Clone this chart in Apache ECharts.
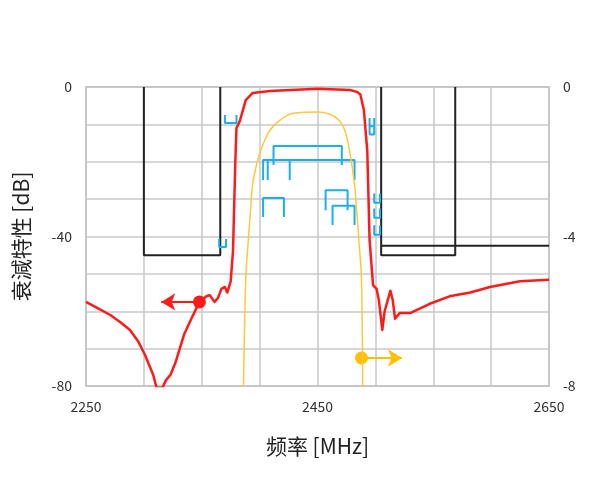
<!DOCTYPE html>
<html><head><meta charset="utf-8">
<script src="https://cdn.jsdelivr.net/npm/echarts@6/dist/echarts.min.js"></script>
<style>html,body{margin:0;padding:0;background:#fff}#c{width:600px;height:480px}</style>
</head><body><div id="c"></div>
<script>
// red: attenuation [dB], left axis
const redData = [[2250,-57.5],[2262,-59.5],[2271,-61],[2280,-63],[2288,-65],[2295,-68],[2301,-71.7],[2308,-77],[2311,-80.5],[2316,-80.5],[2319,-78.5],[2323,-77],[2327,-74],[2331,-70],[2335,-66],[2341,-62],[2348,-57.5],[2354,-56],[2357,-55.7],[2361,-57.5],[2364,-56.5],[2367,-54],[2370,-53.5],[2372,-55],[2375,-52],[2377,-44],[2379,-20],[2380,-11],[2383,-9],[2388,-3.5],[2394,-1.6],[2409,-1.1],[2450,-0.5],[2478,-0.8],[2484,-1.3],[2487,-2],[2490,-6],[2493,-17],[2495,-41],[2498,-53],[2501,-54],[2503,-57],[2506,-65],[2508,-60],[2513,-54.5],[2515,-57],[2517,-62],[2521,-60.5],[2530,-60.5],[2547,-58],[2564,-56],[2582,-55],[2599,-53.5],[2625,-52],[2650,-51.6]];
// yellow: passband detail [dB], right axis
const yellowData = [[2386,-8.2],[2388,-5.16],[2390,-4.2],[2392,-3.37],[2394,-2.6],[2398,-2.0],[2402,-1.61],[2409,-1.15],[2418,-0.88],[2429,-0.70],[2450,-0.67],[2460,-0.72],[2469,-0.9],[2474,-1.2],[2478,-1.77],[2482,-2.6],[2484,-3.37],[2486,-4.2],[2488,-5.16],[2489,-8.2]];
// mask: black
const maskLeft = [[2300,0],[2300,-45],[2366,-45],[2366,0]];
const maskRight = [[2505,0],[2505,-45],[2569,-45],[2569,0]];
const maskFloor = [[2505,-42.5],[2650,-42.5]];
// cyan brackets: [f1, f2, yTop, yBottom, open]
const brackets = [
  [2370,2380,-7.5,-9.6,'up'],[2365,2371,-40.7,-42.8,'up'],
  [2412,2471,-15.8,-20.9,'down'],[2403,2482,-19.5,-24.9,'down'],
  [2403,2421,-29.7,-34.8,'down'],[2457,2476,-27.6,-33,'down'],[2463,2482,-31.8,-36.9,'down'],
  [2495,2499,-8.3,-10.5,'up'],[2495,2499,-10.5,-12.7,'up'],
  [2499,2504,-28.5,-31,'up'],[2499,2504,-32.5,-35,'up'],[2499,2504,-37,-39.5,'up']
];
const innerLegs = [[2407,-19.5,-24.9],[2426,-19.5,-24.9]];
const xTicks = [2250,2450,2650];
const yTicksL = [0,-40,-80];
const yTicksR = [0,-4,-8];

const brk = [];
brackets.forEach(b=>{
  const [a,c,t,bt,o]=b;
  if(o==='down') brk.push([a,bt],[a,t],[c,t],[c,bt],[null,null]);
  else brk.push([a,t],[a,bt],[c,bt],[c,t],[null,null]);
});
innerLegs.forEach(l=>brk.push([l[0],l[1]],[l[0],l[2]],[null,null]));

const gridLine = {show:true,lineStyle:{color:'#c8c8c8',width:1.5}};
const lbl = {fontSize:14,color:'#333',fontFamily:'Noto Sans CJK SC'};
const chart = echarts.init(document.getElementById('c'));
chart.setOption({
  animation:false,
  grid:{left:86,right:51,top:87,bottom:94,outerBoundsMode:'none',containLabel:false,show:true,borderColor:'#aaa',borderWidth:1.5},
  xAxis:{type:'value',min:2250,max:2650,interval:50,
    axisLine:{show:false},axisTick:{show:false},splitLine:gridLine,
    axisLabel:Object.assign({margin:14,formatter:v=>xTicks.includes(v)?String(v):''},lbl),
    name:'频率 [MHz]',nameLocation:'middle',nameGap:50,nameTextStyle:{fontSize:21,color:'#222',fontFamily:'Noto Sans CJK SC'}},
  yAxis:[
    {type:'value',min:-80,max:0,interval:10,axisLine:{show:false},axisTick:{show:false},splitLine:gridLine,
     axisLabel:Object.assign({margin:14,formatter:v=>yTicksL.includes(v)?String(v):''},lbl),
     name:'衰減特性 [dB]',nameLocation:'middle',nameGap:54,nameTextStyle:{fontSize:21,color:'#222',fontFamily:'Noto Sans CJK SC'}},
    {type:'value',min:-8,max:0,interval:1,axisLine:{show:false},axisTick:{show:false},splitLine:{show:false},
     axisLabel:Object.assign({margin:14,formatter:v=>yTicksR.includes(v)?String(v):''},lbl)}
  ],
  series:[
    {type:'line',data:maskLeft,symbol:'none',lineStyle:{color:'#222',width:2},z:3},
    {type:'line',data:maskRight,symbol:'none',lineStyle:{color:'#222',width:2},z:3},
    {type:'line',data:maskFloor,symbol:'none',lineStyle:{color:'#222',width:2},z:3},
    {type:'line',data:brk,symbol:'none',connectNulls:false,lineStyle:{color:'#1ab0e8',width:2},z:4},
    {type:'line',data:yellowData,yAxisIndex:1,symbol:'none',smooth:0.4,clip:true,lineStyle:{color:'#ffc83a',width:1.5},z:5,
     markLine:{silent:true,symbol:['circle','arrow'],symbolSize:[13,14],lineStyle:{color:'#ffc000',width:2,type:'solid'},label:{show:false},
       data:[[{coord:[2488,-7.25]},{coord:[2523,-7.25]}]]}},
    {type:'line',data:redData,symbol:'none',clip:true,lineStyle:{color:'#ff1a1a',width:2.5,join:'round'},z:6,
     markLine:{silent:true,symbol:['circle','arrow'],symbolSize:[13,14],lineStyle:{color:'#ff1a1a',width:2,type:'solid'},label:{show:false},
       data:[[{coord:[2348,-57.5]},{coord:[2315,-57.5]}]]}}
  ]
});
</script></body></html>
